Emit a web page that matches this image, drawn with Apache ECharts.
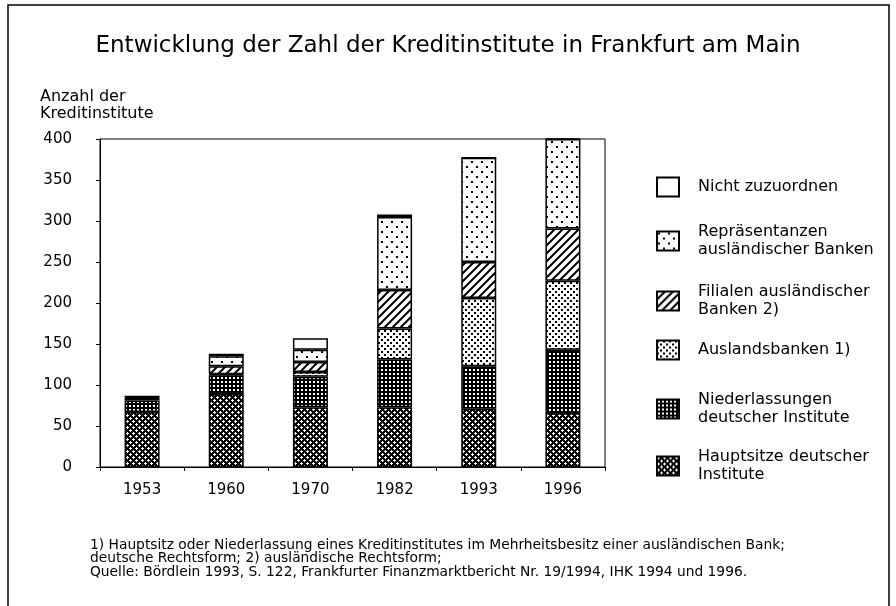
<!DOCTYPE html>
<html><head><meta charset="utf-8">
<script src="https://cdn.jsdelivr.net/npm/echarts@6/dist/echarts.min.js"></script>
<style>html,body{margin:0;padding:0;background:#fff}#c{width:896px;height:606px}</style>
</head><body><div id="c"></div>
<script>
// ---- data (bottom to top) ----
const years = ['1953', '1960', '1970', '1982', '1993', '1996'];
const hauptsitze      = [67, 89, 73, 73, 71, 66];
const niederlassungen = [14, 23, 37, 58, 52, 77];
const auslandsbanken  = [3, 1, 6, 38, 83, 84];
const filialen        = [1, 10, 12, 47, 44, 64];
const repraesentanzen = [1, 12, 15, 89, 127, 109];
const nichtZuzuordnen = [0, 3, 14, 3, 0, 0];
const yTicks = [0, 50, 100, 150, 200, 250, 300, 350, 400];

const seriesNames = ['Hauptsitze deutscher Institute', 'Niederlassungen deutscher Institute', 'Auslandsbanken 1)',
  'Filialen ausländischer Banken 2)', 'Repräsentanzen ausländischer Banken', 'Nicht zuzuordnen'];
const legendLabels = ['Hauptsitze deutscher\nInstitute', 'Niederlassungen\ndeutscher Institute', 'Auslandsbanken 1)',
  'Filialen ausländischer\nBanken 2)', 'Repräsentanzen\nausländischer Banken', 'Nicht zuzuordnen'];
const seriesData = [hauptsitze, niederlassungen, auslandsbanken, filialen, repraesentanzen, nichtZuzuordnen];

// ---- patterns ----
function tile(w, h, draw) {
  const c = document.createElement('canvas'); c.width = w; c.height = h;
  const g = c.getContext('2d'); draw(g); return { image: c, repeat: 'repeat' };
}
const FONT = "'DejaVu Sans', 'Liberation Sans', Arial, sans-serif";
const patHaupt = tile(6, 6, g => {
  g.fillStyle = '#000'; g.fillRect(0, 0, 6, 6); g.fillStyle = '#fff';
  [[1,0],[0,1],[1,1],[2,1],[1,2],[4,3],[3,4],[4,4],[5,4],[4,5]].forEach(p => g.fillRect(p[0], p[1], 1, 1));
});
const patNieder = tile(4, 4, g => {
  g.fillStyle = '#000'; g.fillRect(0, 0, 4, 4); g.fillStyle = '#fff'; g.fillRect(1, 1, 2, 2);
});
const patAusl = tile(6, 6, g => {
  g.fillStyle = '#fff'; g.fillRect(0, 0, 6, 6); g.fillStyle = '#000';
  g.fillRect(0, 0, 2, 2); g.fillRect(3, 3, 2, 2);
});
const patFil = tile(8, 8, g => {
  g.fillStyle = '#fff'; g.fillRect(0, 0, 8, 8); g.strokeStyle = '#000'; g.lineWidth = 2;
  g.beginPath(); g.moveTo(-2, 10); g.lineTo(10, -2); g.moveTo(-2, 2); g.lineTo(2, -2); g.moveTo(6, 10); g.lineTo(10, 6); g.stroke();
});
const patRep = tile(10, 10, g => {
  g.fillStyle = '#fff'; g.fillRect(0, 0, 10, 10); g.fillStyle = '#000';
  g.fillRect(1, 1, 2, 2); g.fillRect(6, 6, 2, 2);
});
const patNicht = '#ffffff';
const patterns = [patHaupt, patNieder, patAusl, patFil, patRep, patNicht];

const legendCenters = [466, 409, 349, 301, 241, 186];

const chart = echarts.init(document.getElementById('c'), null, { renderer: 'canvas' });
chart.setOption({
  animation: false,
  backgroundColor: '#fff',
  title: {
    text: 'Entwicklung der Zahl der Kreditinstitute in Frankfurt am Main',
    left: 'center', top: 30,
    textStyle: { fontFamily: FONT, fontSize: 23, fontWeight: 'normal', color: '#000' }
  },
  grid: { left: 100, right: 291, top: 139, bottom: 139, show: true, borderColor: '#000', borderWidth: 1, backgroundColor: 'transparent' },
  xAxis: {
    type: 'category', data: years,
    axisLine: { lineStyle: { color: '#000', width: 1 } },
    axisTick: { show: true, length: 4, lineStyle: { color: '#000' } },
    axisLabel: { color: '#000', fontFamily: FONT, fontSize: 15, margin: 16 }
  },
  yAxis: {
    type: 'value', min: yTicks[0], max: yTicks[yTicks.length - 1], interval: 50,
    axisLine: { show: true, lineStyle: { color: '#000', width: 1 } },
    axisTick: { show: true, length: 4, lineStyle: { color: '#000' } },
    splitLine: { show: false },
    axisLabel: { color: '#000', fontFamily: FONT, fontSize: 15, margin: 28 }
  },
  legend: seriesNames.map((n, i) => ({
    data: [n], orient: 'vertical', left: 656, padding: 0,
    top: legendCenters[i] - (legendLabels[i].includes('\n') ? 18 : 9.5),
    icon: 'rect', itemWidth: 22, itemHeight: 19, selectedMode: false,
    formatter: () => legendLabels[i],
    textStyle: { fontFamily: FONT, fontSize: 16, lineHeight: 18, color: '#000', padding: [0, 0, 0, 14] }
  })),
  series: seriesNames.map((n, i) => ({
    name: n, type: 'bar', stack: 'total', data: seriesData[i], barWidth: 35,
    itemStyle: { color: patterns[i], borderColor: '#000', borderWidth: 1.5 }
  })),
  graphic: [
    { type: 'rect', shape: { x: 8, y: 5, width: 881, height: 700 }, style: { fill: 'none', stroke: '#000', lineWidth: 1.5 }, silent: true },
    { type: 'text', left: 40, top: 88, style: { text: 'Anzahl der\nKreditinstitute', font: '16px ' + FONT, lineHeight: 17, fill: '#000' } },
    { type: 'text', left: 90, top: 538, style: {
      text: '1) Hauptsitz oder Niederlassung eines Kreditinstitutes im Mehrheitsbesitz einer ausländischen Bank;\ndeutsche Rechtsform; 2) ausländische Rechtsform;\nQuelle: Bördlein 1993, S. 122, Frankfurter Finanzmarktbericht Nr. 19/1994, IHK 1994 und 1996.',
      font: '13.8px ' + FONT, lineHeight: 13.5, fill: '#000' } }
  ]
});
</script>
</body></html>
